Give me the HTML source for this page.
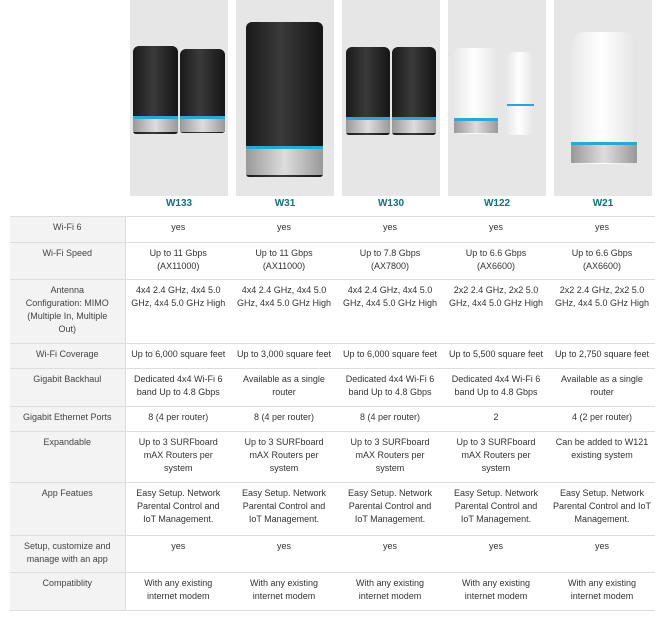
<!DOCTYPE html>
<html><head><meta charset="utf-8"><style>
body{margin:0;width:667px;height:619px;background:#fff;font-family:"Liberation Sans",sans-serif;position:relative;overflow:hidden}
.panel{position:absolute;top:0;width:98px;height:196px;background:#e6e6e6}
.name{position:absolute;top:198px;width:98px;text-align:center;color:#14707e;font-weight:bold;font-size:10px}
table{position:absolute;left:10px;top:216px;border-collapse:collapse;table-layout:fixed;font-size:9px;color:#333;line-height:13px}
td{border-top:1px solid #ddd;text-align:center;vertical-align:top;padding:4px 0 0;overflow:hidden;white-space:nowrap}
tr:last-child td{border-bottom:1px solid #ddd}
td.l{background:#f3f3f3;border-right:1px solid #ddd;color:#444}
.cyl{position:absolute;border-radius:6px 6px 3px 3px}
.blk{background:linear-gradient(90deg,#1a1a1a,#3a3a3a 45%,#151515)}
.wht{background:linear-gradient(90deg,#e8e8e8,#fff 45%,#e4e4e4)}
.band{position:absolute;left:0;right:0;height:3px;background:#29a8d8}
.base{position:absolute;left:0;right:0;background:linear-gradient(90deg,#999,#ddd 50%,#999)}
</style></head><body>
<div class="panel" style="left:130px"></div>
<div class="panel" style="left:236px"></div>
<div class="panel" style="left:342px"></div>
<div class="panel" style="left:448px"></div>
<div class="panel" style="left:554px"></div>

<div class="cyl blk" style="left:133px;top:46px;width:45px;height:88px"><div class="band" style="top:70px"></div><div class="base" style="top:73px;height:13px"></div></div>
<div class="cyl blk" style="left:180px;top:49px;width:45px;height:84px"><div class="band" style="top:67px"></div><div class="base" style="top:70px;height:13px"></div></div>

<div class="cyl blk" style="left:246px;top:22px;width:77px;height:155px"><div class="band" style="top:124px"></div><div class="base" style="top:127px;height:26px"></div></div>

<div class="cyl blk" style="left:346px;top:47px;width:44px;height:88px"><div class="band" style="top:70px"></div><div class="base" style="top:73px;height:13px"></div></div>
<div class="cyl blk" style="left:392px;top:47px;width:44px;height:88px"><div class="band" style="top:70px"></div><div class="base" style="top:73px;height:13px"></div></div>

<div class="cyl wht" style="left:454px;top:48px;width:44px;height:86px"><div class="band" style="top:70px"></div><div class="base" style="top:73px;height:12px"></div></div>
<div class="cyl wht" style="left:507px;top:52px;width:27px;height:83px"><div class="band" style="top:52px;height:2px"></div></div>

<div class="cyl wht" style="left:571px;top:32px;width:66px;height:132px;border-radius:14px 14px 4px 4px"><div class="band" style="top:110px"></div><div class="base" style="top:113px;height:18px"></div></div>

<div class="name" style="left:130px">W133</div>
<div class="name" style="left:236px">W31</div>
<div class="name" style="left:342px">W130</div>
<div class="name" style="left:448px">W122</div>
<div class="name" style="left:554px">W21</div>

<table>
<colgroup><col style="width:115px"><col style="width:106px"><col style="width:106px"><col style="width:106px"><col style="width:106px"><col style="width:106px"></colgroup>
<tr style="height:26px"><td class="l">Wi-Fi 6</td><td>yes</td><td>yes</td><td>yes</td><td>yes</td><td>yes</td></tr>
<tr style="height:37px"><td class="l">Wi-Fi Speed</td><td>Up to 11 Gbps<br>(AX11000)</td><td>Up to 11 Gbps<br>(AX11000)</td><td>Up to 7.8 Gbps<br>(AX7800)</td><td>Up to 6.6 Gbps<br>(AX6600)</td><td>Up to 6.6 Gbps<br>(AX6600)</td></tr>
<tr style="height:64px"><td class="l">Antenna<br>Configuration: MIMO<br>(Multiple In, Multiple<br>Out)</td><td>4x4 2.4 GHz, 4x4 5.0<br>GHz, 4x4 5.0 GHz High</td><td>4x4 2.4 GHz, 4x4 5.0<br>GHz, 4x4 5.0 GHz High</td><td>4x4 2.4 GHz, 4x4 5.0<br>GHz, 4x4 5.0 GHz High</td><td>2x2 2.4 GHz, 2x2 5.0<br>GHz, 4x4 5.0 GHz High</td><td>2x2 2.4 GHz, 2x2 5.0<br>GHz, 4x4 5.0 GHz High</td></tr>
<tr style="height:25px"><td class="l">Wi-Fi Coverage</td><td>Up to 6,000 square feet</td><td>Up to 3,000 square feet</td><td>Up to 6,000 square feet</td><td>Up to 5,500 square feet</td><td>Up to 2,750 square feet</td></tr>
<tr style="height:38px"><td class="l">Gigabit Backhaul</td><td>Dedicated 4x4 Wi-Fi 6<br>band Up to 4.8 Gbps</td><td>Available as a single<br>router</td><td>Dedicated 4x4 Wi-Fi 6<br>band Up to 4.8 Gbps</td><td>Dedicated 4x4 Wi-Fi 6<br>band Up to 4.8 Gbps</td><td>Available as a single<br>router</td></tr>
<tr style="height:25px"><td class="l">Gigabit Ethernet Ports</td><td>8 (4 per router)</td><td>8 (4 per router)</td><td>8 (4 per router)</td><td>2</td><td>4 (2 per router)</td></tr>
<tr style="height:51px"><td class="l">Expandable</td><td>Up to 3 SURFboard<br>mAX Routers per<br>system</td><td>Up to 3 SURFboard<br>mAX Routers per<br>system</td><td>Up to 3 SURFboard<br>mAX Routers per<br>system</td><td>Up to 3 SURFboard<br>mAX Routers per<br>system</td><td>Can be added to W121<br>existing system</td></tr>
<tr style="height:53px"><td class="l">App Featues</td><td>Easy Setup. Network<br>Parental Control and<br>IoT Management.</td><td>Easy Setup. Network<br>Parental Control and<br>IoT Management.</td><td>Easy Setup. Network<br>Parental Control and<br>IoT Management.</td><td>Easy Setup. Network<br>Parental Control and<br>IoT Management.</td><td>Easy Setup. Network<br>Parental Control and IoT<br>Management.</td></tr>
<tr style="height:37px"><td class="l">Setup, customize and<br>manage with an app</td><td>yes</td><td>yes</td><td>yes</td><td>yes</td><td>yes</td></tr>
<tr style="height:38px"><td class="l">Compatiblity</td><td>With any existing<br>internet modem</td><td>With any existing<br>internet modem</td><td>With any existing<br>internet modem</td><td>With any existing<br>internet modem</td><td>With any existing<br>internet modem</td></tr>
</table>
</body></html>
